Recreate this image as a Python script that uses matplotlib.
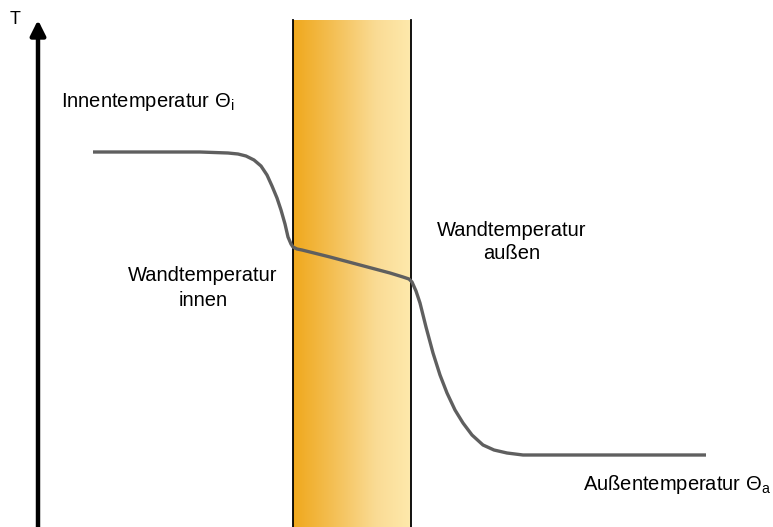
import numpy as np
import matplotlib
matplotlib.use("Agg")
import matplotlib.pyplot as plt
from matplotlib.colors import LinearSegmentedColormap

plt.rcParams['font.family'] = ['Liberation Sans', 'DejaVu Sans']
plt.rcParams['mathtext.fontset'] = 'custom'
plt.rcParams['mathtext.rm'] = 'Liberation Sans'
plt.rcParams['mathtext.it'] = 'Liberation Sans'

# temperature profile (pixel coords, y down)
curve_x = [93, 200, 228, 238, 246, 254, 261, 267, 272, 277, 281, 285, 288, 291, 293, 297, 302,
           330, 360, 390, 403, 409, 412, 416, 420, 426, 433, 440, 447, 455, 463, 472,
           483, 494, 507, 523, 600, 706]
curve_y = [152, 152, 153, 154, 156, 160, 166, 175, 186, 198, 210, 224, 237, 244, 247, 249, 250,
           257, 265, 273, 277, 279, 282, 291, 303, 327, 353, 375, 393, 410, 423, 435,
           445, 450, 453, 455, 455, 455]

wall_left, wall_right = 293, 411
wall_top, wall_bottom = 20, 527

fig = plt.figure(figsize=(7.73, 5.27), dpi=100)
ax = fig.add_axes([0, 0, 1, 1])
ax.set_xlim(0, 773)
ax.set_ylim(527, 0)
ax.axis('off')

# wall with gradient
cmap = LinearSegmentedColormap.from_list(
    'wall', [(0.0, '#F0A81C'), (0.35, '#F4C056'), (0.7, '#FADB94'), (1.0, '#FEE9AC')])
grad = np.linspace(0, 1, 256).reshape(1, -1)
ax.imshow(grad, cmap=cmap, aspect='auto',
          extent=[wall_left, wall_right, wall_bottom, wall_top], zorder=1)
ax.plot([wall_left, wall_left], [wall_top, wall_bottom], color='black', lw=1.3, zorder=2)
ax.plot([wall_right, wall_right], [wall_top, wall_bottom], color='black', lw=1.3, zorder=2)

# curve
ax.plot(curve_x, curve_y, color='#5f5f5f', lw=2.4, solid_capstyle='butt',
        solid_joinstyle='round', zorder=3)

# T axis arrow
ax.annotate('', xy=(38, 20), xytext=(38, 527),
            arrowprops=dict(arrowstyle='-|>,head_length=0.9,head_width=0.45',
                            color='black', lw=3.2, shrinkA=0, shrinkB=0))
ax.text(15, 20, 'T', fontsize=13, ha='center', va='center')

fs = 14.5
ax.text(61, 102, r'Innentemperatur $\Theta_\mathrm{i}$', fontsize=fs, ha='left', va='center')
ax.text(203, 288, 'Wandtemperatur\ninnen', fontsize=fs, ha='center', va='center',
        linespacing=1.35)
ax.text(512, 242, 'Wandtemperatur\naußen', fontsize=fs, ha='center', va='center',
        linespacing=1.3)
ax.text(583, 485, r'Außentemperatur $\Theta_\mathrm{a}$', fontsize=fs, ha='left', va='center')

fig.savefig('out.png', dpi=100)
plt.close()
